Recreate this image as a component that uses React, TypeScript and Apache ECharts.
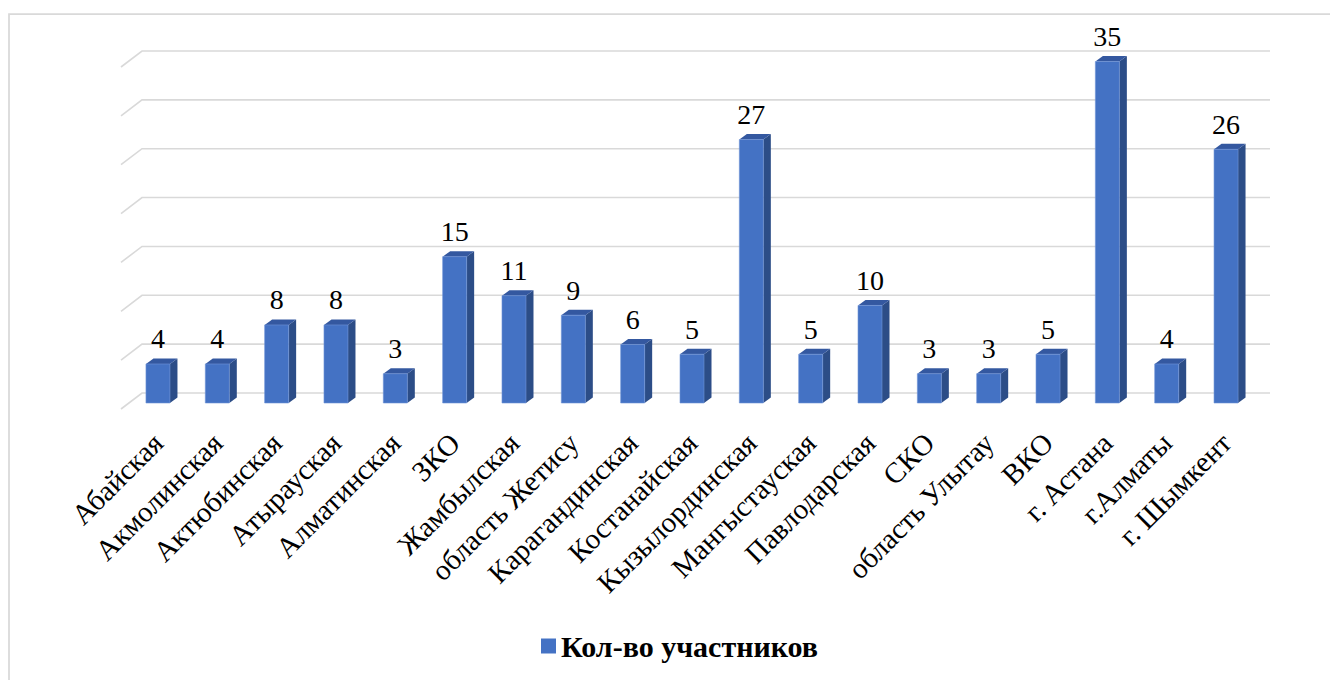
import React, { useEffect, useRef } from "react";
import * as echarts from "echarts";

const categories = [
  "Абайская",
  "Акмолинская",
  "Актюбинская",
  "Атырауская",
  "Алматинская",
  "ЗКО",
  "Жамбылская",
  "область Жетису",
  "Карагандинская",
  "Костанайская",
  "Кызылординская",
  "Мангыстауская",
  "Павлодарская",
  "СКО",
  "область Улытау",
  "ВКО",
  "г. Астана",
  "г.Алматы",
  "г. Шымкент",
];
const participants = [4, 4, 8, 8, 3, 15, 11, 9, 6, 5, 27, 5, 10, 3, 3, 5, 35, 4, 26];
const gridTicks = [0, 5, 10, 15, 20, 25, 30, 35];
const seriesName = "Кол-во участников";

const FONT = "Liberation Serif";
const FRONT = "#4472C4";
const SIDE = "#2C4D87";
const TOP = "#3458A0";

export default function App() {
  const ref = useRef<HTMLDivElement>(null);
  useEffect(() => {
    if (!ref.current) return;
    const chart = echarts.init(ref.current, null, { renderer: "svg" });
    const BW = 24;
    const DX = 7.5;
    const DY = -5.5;
    chart.setOption({
      animation: false,
      backgroundColor: "#ffffff",
      textStyle: { fontFamily: FONT },
      graphic: [
        {
          type: "rect",
          shape: { x: 9, y: 14.2, width: 2000, height: 2000 },
          style: { fill: "none", stroke: "#d9d9d9", lineWidth: 1.75 },
          silent: true,
        },
      ],
      legend: {
        data: [seriesName],
        left: 541,
        top: 631,
        padding: 0,
        icon: "rect",
        itemWidth: 15,
        itemHeight: 15,
        textStyle: { fontFamily: FONT, fontSize: 30, fontWeight: "bold", color: "#000" },
      },
      grid: [
        { left: 128.3, right: 74.3, top: 61.5, height: 341.5 },
        { left: 142, width: 1128, top: 51, height: 342 },
      ],
      xAxis: [
        {
          type: "category",
          gridIndex: 0,
          data: categories,
          axisLine: { show: false },
          axisTick: { show: false },
          axisLabel: {
            interval: 0,
            rotate: 45,
            margin: 35,
            fontFamily: FONT,
            fontSize: 29,
            color: "#000",
          },
        },
        { type: "value", gridIndex: 1, min: 0, max: 1, show: false },
      ],
      yAxis: [
        { type: "value", gridIndex: 0, min: 0, max: 35, show: false, splitLine: { show: false } },
        { type: "value", gridIndex: 1, min: 0, max: 35, show: false, splitLine: { show: false } },
      ],
      series: [
        {
          type: "custom",
          xAxisIndex: 1,
          yAxisIndex: 1,
          silent: true,
          data: gridTicks.map((v) => [v]),
          renderItem: (params: any, api: any) => {
            const v = api.value(0);
            const p0 = api.coord([0, v]);
            const p1 = api.coord([1, v]);
            return {
              type: "polyline",
              shape: { points: [[p0[0] - 21, p0[1] + 16], p0, p1] },
              style: { stroke: "#d9d9d9", lineWidth: 1.6, fill: "none" },
            };
          },
        },
        {
          type: "custom",
          name: seriesName,
          xAxisIndex: 0,
          yAxisIndex: 0,
          itemStyle: { color: FRONT },
          data: participants.map((v, i) => [i, v]),
          renderItem: (params: any, api: any) => {
            const idx = api.value(0);
            const val = api.value(1);
            const top = api.coord([idx, val]);
            const base = api.coord([idx, 0]);
            const cx = top[0];
            const yt = top[1];
            const yb = base[1];
            const xl = cx - BW / 2;
            const xr = cx + BW / 2;
            return {
              type: "group",
              children: [
                {
                  type: "polygon",
                  shape: { points: [[xr, yt], [xr + DX, yt + DY], [xr + DX, yb + DY], [xr, yb]] },
                  style: { fill: SIDE },
                },
                {
                  type: "polygon",
                  shape: { points: [[xl, yt], [xr, yt], [xr + DX, yt + DY], [xl + DX, yt + DY]] },
                  style: { fill: TOP },
                },
                {
                  type: "rect",
                  shape: { x: xl, y: yt, width: BW, height: yb - yt },
                  style: { fill: FRONT, stroke: "#6f93d6", lineWidth: 0.6 },
                },
                {
                  type: "text",
                  x: cx,
                  y: yt - 25,
                  style: {
                    text: String(val),
                    fontFamily: FONT,
                    fontSize: 28,
                    fill: "#000",
                    align: "center",
                    verticalAlign: "middle",
                  },
                },
              ],
            };
          },
        },
      ],
    });
    return () => chart.dispose();
  }, []);
  return (
    <div
      ref={ref}
      style={{ position: "fixed", left: 0, top: 0, width: 1330, height: 680, background: "#fff" }}
    />
  );
}
